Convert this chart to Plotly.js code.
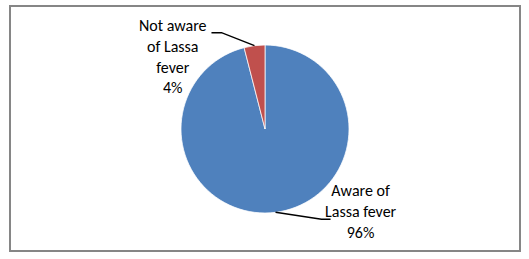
<!DOCTYPE html>
<html><head><meta charset="utf-8">
<script src="https://cdn.plot.ly/plotly-3.0.1.min.js"></script>
<style>html,body{margin:0;padding:0;background:#fff}</style>
</head><body>
<div id="chart" style="width:529px;height:259px"></div>
<script>
var labels = ["Aware of Lassa fever", "Not aware of Lassa fever"];
var values = [96, 4];
var labelText = ["Aware of<br>Lassa fever<br>96%", "Not aware<br>of Lassa<br>fever<br>4%"];
var colors = ["#4F81BD", "#C0504D"];

var W = 529, H = 259;
var cx = 265, cy = 129, R = 84;
var dom = {x: [(cx - R) / W, (cx + R) / W], y: [(H - cy - R) / H, (H - cy + R) / H]};

// label layout (pixel offsets from slice edge), style only
var elbow = [{dx: 46, dy: 7, hx: 9}, {dx: -33, dy: -13, hx: -10}];
var textOff = [{dx: 30}, {dx: -38}];
var textY = [211, 56];

var total = values.reduce(function(a, b) { return a + b; }, 0);
var shapes = [{type: 'rect', xref: 'paper', yref: 'paper', x0: 10 / W, x1: 520 / W, y0: (H - 251) / H, y1: (H - 6) / H,
  line: {color: '#868686', width: 2}, fillcolor: 'rgba(0,0,0,0)'}];
var annotations = [];
var cum = 0;
function toP(px, py) { return [px / W, (H - py) / H]; }
for (var i = 0; i < values.length; i++) {
  var mid = (cum + values[i] / 2) / total * 2 * Math.PI; // clockwise from top
  cum += values[i];
  var ex = cx + R * Math.sin(mid), ey = cy - R * Math.cos(mid);
  var bx = ex + elbow[i].dx, by = ey + elbow[i].dy;
  var hx = bx + elbow[i].hx;
  var p1 = toP(ex, ey), p2 = toP(bx, by), p3 = toP(hx, by);
  shapes.push({type: 'path', xref: 'paper', yref: 'paper',
    path: 'M' + p1[0] + ',' + p1[1] + ' L' + p2[0] + ',' + p2[1] + ' L' + p3[0] + ',' + p3[1],
    line: {color: '#000', width: 1.5}});
  var tp = toP(hx + textOff[i].dx, textY[i]);
  annotations.push({xref: 'paper', yref: 'paper', x: tp[0], y: tp[1], text: labelText[i], showarrow: false,
    xanchor: 'center', yanchor: 'middle', align: 'center',
    font: {family: 'Carlito, Calibri, Lato, sans-serif', size: 16, color: '#000'}});
}

var data = [{type: 'pie', labels: labels, values: values, sort: false, direction: 'clockwise', rotation: 0,
  marker: {colors: colors, line: {color: '#ffffff', width: 0.75}}, textinfo: 'none', hoverinfo: 'label+percent',
  domain: dom, showlegend: false}];

Plotly.newPlot('chart', data, {width: W, height: H, margin: {l: 0, r: 0, t: 0, b: 0},
  paper_bgcolor: '#fff', shapes: shapes, annotations: annotations, showlegend: false}, {displayModeBar: false, staticPlot: true});
</script>
</body></html>
